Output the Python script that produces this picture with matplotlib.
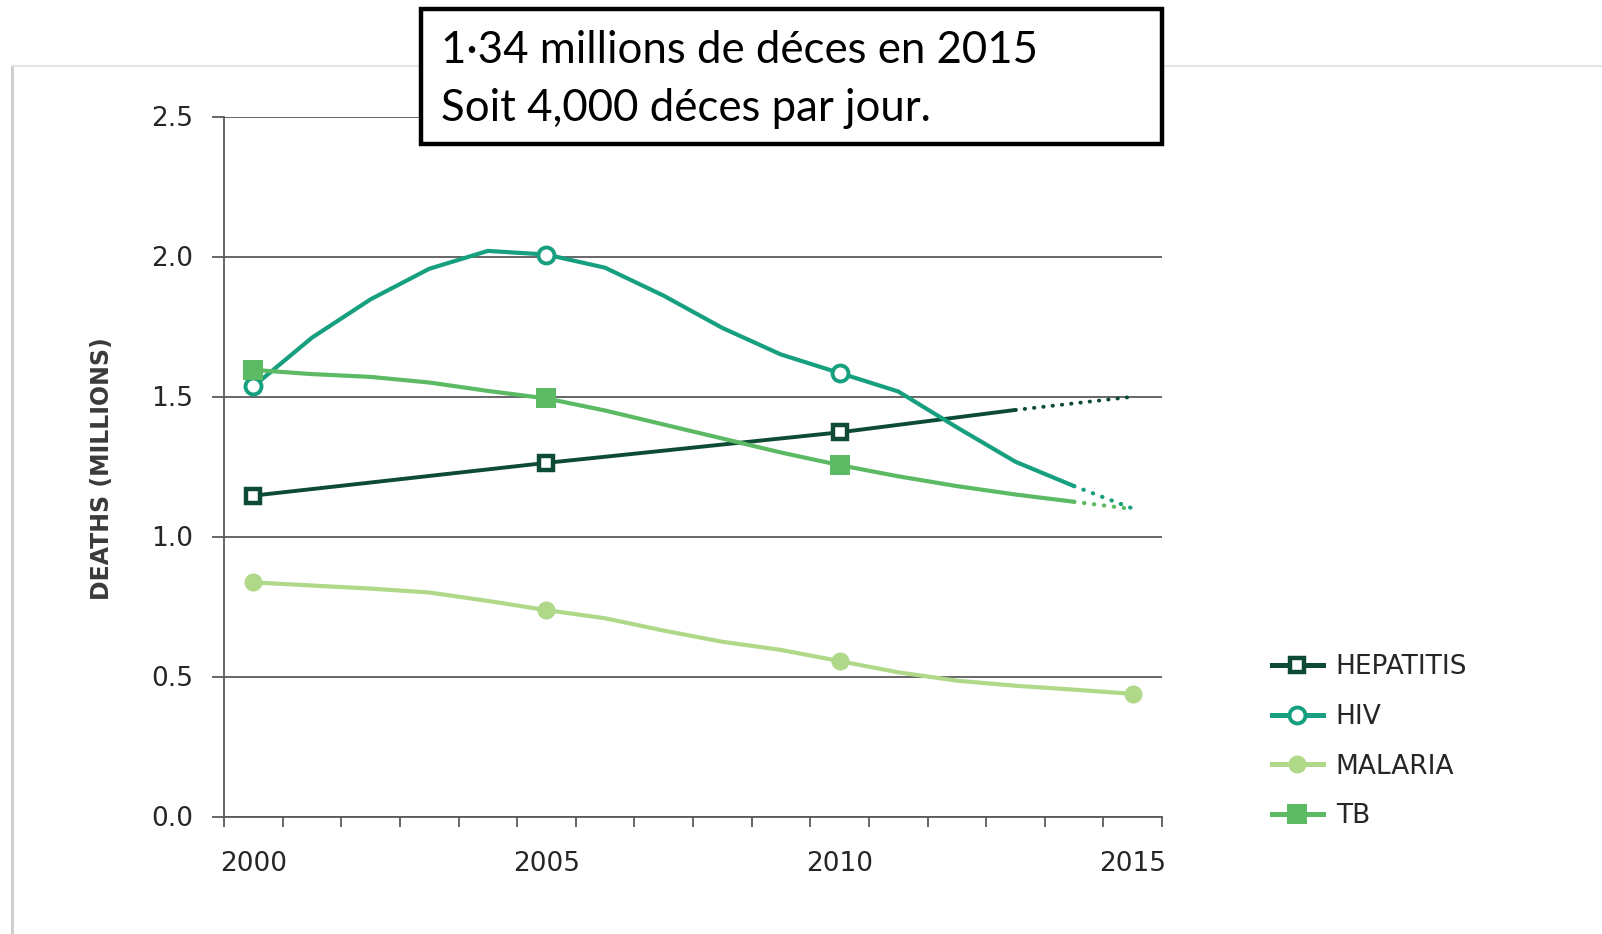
import matplotlib
matplotlib.use("Agg")
import matplotlib.pyplot as plt
from matplotlib.lines import Line2D
from matplotlib.patches import Rectangle
import numpy as np

# ---------------- data ----------------
years = [2000, 2001, 2002, 2003, 2004, 2005, 2006, 2007, 2008, 2009, 2010,
         2011, 2012, 2013, 2014, 2015]

hep_years = [2000, 2005, 2010, 2013]
hep_vals = [1.146, 1.263, 1.372, 1.452]
hep_proj_years = [2013, 2015]
hep_proj_vals = [1.452, 1.499]

hiv_vals = [1.536, 1.71, 1.847, 1.956, 2.02, 2.007, 1.96, 1.86, 1.745, 1.65,
            1.584, 1.518, 1.39, 1.267, 1.18]
hiv_proj_vals = [1.18, 1.10]

malaria_vals = [0.836, 0.825, 0.814, 0.80, 0.77, 0.737, 0.708, 0.664, 0.624,
                0.595, 0.555, 0.515, 0.485, 0.467, 0.453, 0.438]

tb_vals = [1.595, 1.58, 1.57, 1.55, 1.52, 1.493, 1.45, 1.40, 1.35, 1.30,
           1.255, 1.215, 1.18, 1.15, 1.124]
tb_proj_vals = [1.124, 1.098]

marker_years = [2000, 2005, 2010]
malaria_marker_years = [2000, 2005, 2010, 2015]

series_names = ["HEPATITIS", "HIV", "MALARIA", "TB"]
ytick_vals = [0.0, 0.5, 1.0, 1.5, 2.0, 2.5]
xtick_vals = [2000, 2005, 2010, 2015]

note_lines = ["1·34 millions de déces en 2015", "Soit 4,000 déces par jour."]
ylabel = "DEATHS (MILLIONS)"

# ---------------- style ----------------
c_hep = "#0d4b37"
c_hiv = "#17a07f"
c_mal = "#b0d889"
c_tb = "#5cba64"
grid_c = "#5a5a5a"
txt_c = "#262626"

W, H = 1602, 934
fig = plt.figure(figsize=(W / 100, H / 100), dpi=100)
fig.patch.set_facecolor("white")

ax_left, ax_right = 224, 1162
ax_bottom, ax_top = 816.5, 116.5
ax = fig.add_axes([ax_left / W, 1 - ax_bottom / H,
                   (ax_right - ax_left) / W, (ax_bottom - ax_top) / H])
ax.set_xlim(1999.5, 2015.5)
ax.set_ylim(0, 2.5)

for s in ["top", "right"]:
    ax.spines[s].set_visible(False)
for s in ["left", "bottom"]:
    ax.spines[s].set_color(grid_c)
    ax.spines[s].set_linewidth(1.3)

ax.set_yticks(ytick_vals)
ax.set_yticklabels([f"{v:.1f}" for v in ytick_vals])
for t in ax.get_yticklabels():
    t.set_va("center_baseline")
ax.yaxis.grid(True, color=grid_c, lw=1.3)
ax.set_axisbelow(True)
ax.tick_params(axis="y", length=9, width=1.3, color=grid_c, pad=13,
               labelsize=19, labelcolor=txt_c)

ax.set_xticks(xtick_vals)
ax.set_xticklabels([str(v) for v in xtick_vals])
ax.set_xticks(np.arange(1999.5, 2016, 1.0), minor=True)
ax.tick_params(axis="x", which="major", length=0, pad=25,
               labelsize=19, labelcolor=txt_c)
ax.tick_params(axis="x", which="minor", length=7, width=1.3, color=grid_c)

# ---------------- lines ----------------
lw = 3.0
dot_style = (0, (0.1, 2.3))

# Hepatitis
ax.plot(hep_years, hep_vals, color=c_hep, lw=2.8, zorder=3,
        solid_capstyle="round")
ax.plot(hep_proj_years, hep_proj_vals, color=c_hep, lw=2.8, ls=dot_style,
        dash_capstyle="round", zorder=3)
hep_m = [hep_vals[hep_years.index(y)] for y in marker_years]
ax.plot(marker_years, hep_m, ls="none", marker="s", ms=10, mew=3.2,
        mfc="white", mec=c_hep, zorder=6)

# HIV
ax.plot(years[:15], hiv_vals, color=c_hiv, lw=lw, zorder=4,
        solid_capstyle="round")
ax.plot(years[14:16], hiv_proj_vals, color=c_hiv, lw=lw, ls=dot_style,
        dash_capstyle="round", zorder=4)
hiv_m = [hiv_vals[years.index(y)] for y in marker_years]
ax.plot(marker_years, hiv_m, ls="none", marker="o", ms=11.5, mew=2.8,
        mfc="white", mec=c_hiv, zorder=6)

# Malaria
ax.plot(years, malaria_vals, color=c_mal, lw=lw, zorder=4)
mal_m = [malaria_vals[years.index(y)] for y in malaria_marker_years]
ax.plot(malaria_marker_years, mal_m, ls="none", marker="o", ms=13,
        mew=0, mfc=c_mal, zorder=6)

# TB
ax.plot(years[:15], tb_vals, color=c_tb, lw=lw, zorder=5,
        solid_capstyle="round")
ax.plot(years[14:16], tb_proj_vals, color=c_tb, lw=lw, ls=dot_style,
        dash_capstyle="round", zorder=5)
tb_m = [tb_vals[years.index(y)] for y in marker_years]
ax.plot(marker_years, tb_m, ls="none", marker="s", ms=14, mew=0,
        mfc=c_tb, zorder=7)

# ---------------- y label ----------------
fig.text(102 / W, 1 - 469 / H, ylabel, rotation=90, ha="center",
         va="center", fontsize=17, fontweight="bold", color="#3a3a3a")

# ---------------- legend ----------------
hlw = 3.6
handles = [
    Line2D([], [], color=c_hep, lw=hlw, marker="s", ms=10, mew=3.2,
           mfc="white", mec=c_hep),
    Line2D([], [], color=c_hiv, lw=hlw, marker="o", ms=11.5, mew=2.8,
           mfc="white", mec=c_hiv),
    Line2D([], [], color=c_mal, lw=hlw, marker="o", ms=13, mew=0, mfc=c_mal),
    Line2D([], [], color=c_tb, lw=hlw, marker="s", ms=14, mew=0, mfc=c_tb),
]
leg = fig.legend(handles, series_names, loc="upper left",
                 bbox_to_anchor=(1272 / W, 1 - 654 / H), frameon=False,
                 fontsize=19, handlelength=1.93, handletextpad=0.49,
                 labelspacing=0.9, borderpad=0, borderaxespad=0)
for t in leg.get_texts():
    t.set_color(txt_c)

# ---------------- frame of the screenshot ----------------
fig.add_artist(Line2D([12 / W, 12 / W], [0, 1 - 66 / H],
                      transform=fig.transFigure, color="#cfcfcf", lw=2.2,
                      zorder=1))
fig.add_artist(Line2D([12 / W, 1.0], [1 - 66 / H, 1 - 66 / H],
                      transform=fig.transFigure, color="#e4e4e4", lw=1.5,
                      zorder=1))

# ---------------- note box ----------------
bx0, bx1, by0, by1 = 421, 1162, 9, 144
fig.add_artist(Rectangle((bx0 / W, 1 - by1 / H), (bx1 - bx0) / W,
                         (by1 - by0) / H, transform=fig.transFigure,
                         facecolor="white", edgecolor="black", lw=3.2,
                         zorder=10))
fig.text(441 / W, 1 - 63 / H, note_lines[0], fontsize=31.5, family="Lato",
         color="black", va="baseline", ha="left", zorder=11)
fig.text(441 / W, 1 - 121 / H, note_lines[1], fontsize=31.5, family="Lato",
         color="black", va="baseline", ha="left", zorder=11)

fig.savefig("out.png", dpi=100, facecolor="white")
